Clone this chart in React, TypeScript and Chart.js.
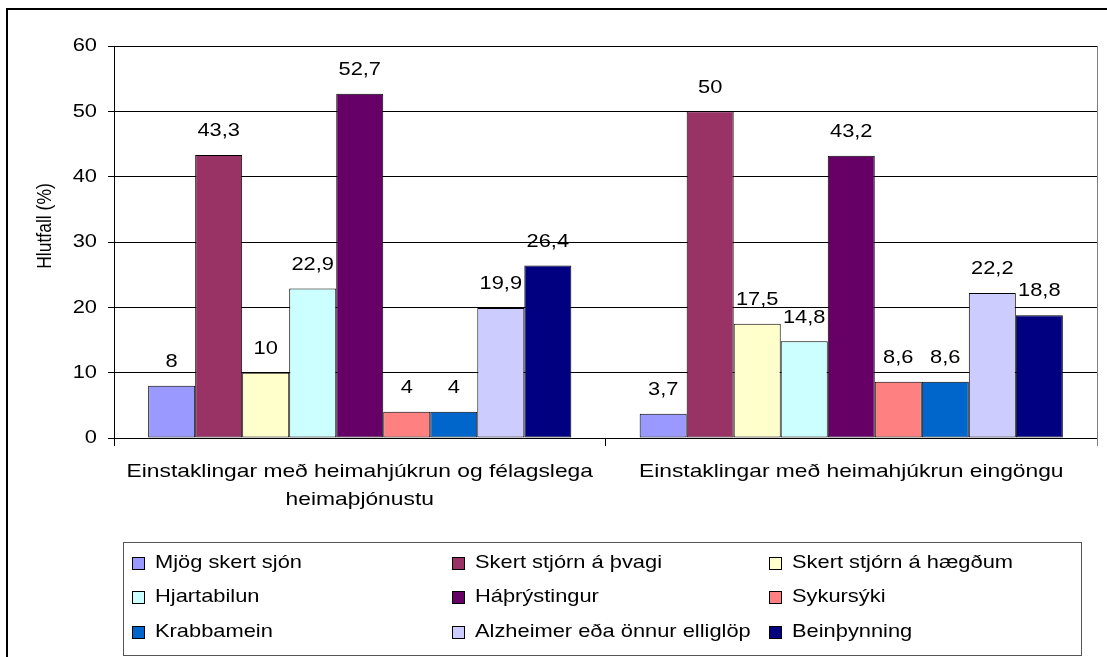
import React, { useEffect, useRef } from 'react';
import { Chart, registerables } from 'chart.js';

Chart.register(...registerables);

const categories: (string | string[])[] = [
  ['Einstaklingar með heimahjúkrun og félagslega', 'heimaþjónustu'],
  'Einstaklingar með heimahjúkrun eingöngu',
];

const seriesNames = [
  'Mjög skert sjón',
  'Skert stjórn á þvagi',
  'Skert stjórn á hægðum',
  'Hjartabilun',
  'Háþrýstingur',
  'Sykursýki',
  'Krabbamein',
  'Alzheimer eða önnur elliglöp',
  'Beinþynning',
];

const seriesColors = [
  '#9999FF',
  '#993366',
  '#FFFFCC',
  '#CCFFFF',
  '#660066',
  '#FF8080',
  '#0066CC',
  '#CCCCFF',
  '#000080',
];

const mjogSkertSjon = [8, 3.7];
const skertThvagi = [43.3, 50];
const skertHaegdum = [10, 17.5];
const hjartabilun = [22.9, 14.8];
const haprystingur = [52.7, 43.2];
const sykursyki = [4, 8.6];
const krabbamein = [4, 8.6];
const alzheimer = [19.9, 22.2];
const beinthynning = [26.4, 18.8];

const seriesValues = [
  mjogSkertSjon,
  skertThvagi,
  skertHaegdum,
  hjartabilun,
  haprystingur,
  sykursyki,
  krabbamein,
  alzheimer,
  beinthynning,
];

const yMin = 0;
const yMax = 60;
const yStep = 10;
const yTitle = 'Hlutfall (%)';

const FONT = "'Liberation Sans', Arial, sans-serif";
const SX = 1.15;

const drawText = (
  ctx: CanvasRenderingContext2D,
  text: string,
  x: number,
  y: number,
  align: CanvasTextAlign,
  size: number,
  sx: number
) => {
  ctx.save();
  ctx.font = `${size}px ${FONT}`;
  ctx.fillStyle = '#000000';
  ctx.textAlign = align;
  ctx.textBaseline = 'middle';
  ctx.translate(x, y);
  ctx.scale(sx, 1);
  ctx.fillText(text, 0, 0);
  ctx.restore();
};

const framePlugin = {
  id: 'frame',
  beforeDraw: (chart: any) => {
    const ctx = chart.ctx;
    ctx.save();
    ctx.fillStyle = '#ffffff';
    ctx.fillRect(0, 0, chart.width, chart.height);
    ctx.strokeStyle = '#000000';
    ctx.lineWidth = 2;
    ctx.beginPath();
    ctx.moveTo(7, chart.height);
    ctx.lineTo(7, 9);
    ctx.lineTo(chart.width, 9);
    ctx.stroke();
    ctx.restore();
  },
  afterDraw: (chart: any) => {
    const ctx = chart.ctx as CanvasRenderingContext2D;
    const area = chart.chartArea;
    const xScale = chart.scales.x;
    const yScale = chart.scales.y;
    ctx.save();
    // right border of plot area
    ctx.strokeStyle = '#808080';
    ctx.lineWidth = 1;
    ctx.beginPath();
    ctx.moveTo(Math.round(area.right) + 0.5, area.top);
    ctx.lineTo(Math.round(area.right) + 0.5, area.bottom + 8);
    ctx.stroke();

    // y tick labels (from the library's scale)
    yScale.ticks.forEach((t: any) => {
      const py = yScale.getPixelForValue(t.value);
      drawText(ctx, String(t.label), area.left - 17, py, 'right', 19, SX);
    });

    // x category labels (from the library's scale)
    chart.data.labels.forEach((lab: any, i: number) => {
      const px = xScale.getPixelForTick(i);
      const lines = Array.isArray(lab) ? lab : [lab];
      lines.forEach((ln: string, k: number) => {
        drawText(ctx, ln, px, area.bottom + 34 + k * 28, 'center', 19, 1.2);
      });
    });

    // data labels
    chart.data.datasets.forEach((ds: any, i: number) => {
      const meta = chart.getDatasetMeta(i);
      meta.data.forEach((el: any, j: number) => {
        const v = ds.data[j];
        const label = String(v).replace('.', ',');
        drawText(ctx, label, el.x, el.y - 24, 'center', 19, SX);
      });
    });

    // y axis title
    ctx.save();
    ctx.font = `17.5px ${FONT}`;
    ctx.fillStyle = '#000000';
    ctx.textAlign = 'center';
    ctx.textBaseline = 'middle';
    ctx.translate(45, 226);
    ctx.scale(SX, 1);
    ctx.rotate(-Math.PI / 2);
    ctx.fillText(yTitle, 0, 0);
    ctx.restore();

    // legend
    const boxL = 123;
    const boxT = 542;
    const boxR = 1081;
    const boxB = 655;
    ctx.strokeStyle = '#555555';
    ctx.lineWidth = 1;
    ctx.strokeRect(boxL + 0.5, boxT + 0.5, boxR - boxL, boxB - boxT);
    const colX = [132, 452, 769];
    const rowY = [563, 597, 632];
    chart.data.datasets.forEach((ds: any, i: number) => {
      const col = i % 3;
      const row = Math.floor(i / 3);
      const x = colX[col];
      const y = rowY[row];
      ctx.fillStyle = ds.backgroundColor;
      ctx.fillRect(x, y - 6, 12, 12);
      ctx.strokeStyle = '#000000';
      ctx.strokeRect(x + 0.5, y - 5.5, 12, 12);
      drawText(ctx, ds.label, x + 23, y, 'left', 19, SX);
    });
    ctx.restore();
  },
};

export default function App() {
  const canvasRef = useRef<HTMLCanvasElement | null>(null);

  useEffect(() => {
    document.body.style.margin = '0';
    const canvas = canvasRef.current;
    if (!canvas) return;
    const chart = new Chart(canvas, {
      type: 'bar',
      data: {
        labels: categories,
        datasets: seriesNames.map((name, i) => ({
          label: name,
          data: seriesValues[i],
          backgroundColor: seriesColors[i],
          borderColor: '#000000',
          borderWidth: 1,
          borderSkipped: false,
          categoryPercentage: 0.861,
          barPercentage: 1,
        })),
      },
      options: {
        responsive: false,
        animation: false,
        events: [],
        layout: { padding: { left: 0, top: 46, right: 10, bottom: 0 } },
        plugins: {
          legend: { display: false },
          tooltip: { enabled: false },
        },
        scales: {
          x: {
            grid: {
              display: true,
              drawOnChartArea: false,
              drawTicks: true,
              tickLength: 8,
              color: '#000000',
              offset: true,
            },
            border: { display: true, color: '#000000' },
            ticks: {
              display: false,
              autoSkip: false,
              maxRotation: 0,
            },
            afterFit: (scale: any) => {
              scale.height = 219;
            },
          },
          y: {
            min: yMin,
            max: yMax,
            grid: {
              color: '#000000',
              tickLength: 6,
              drawTicks: true,
            },
            border: { display: true, color: '#000000' },
            ticks: {
              display: false,
              stepSize: yStep,
            },
            afterFit: (scale: any) => {
              scale.width = 114;
            },
          },
        },
      },
      plugins: [framePlugin],
    });
    return () => {
      chart.destroy();
    };
  }, []);

  return (
    <canvas
      ref={canvasRef}
      width={1107}
      height={657}
      style={{ display: 'block', width: '1107px', height: '657px' }}
    />
  );
}
